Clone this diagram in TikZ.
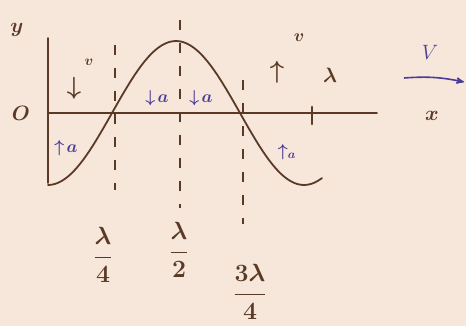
\documentclass[tikz,border=0pt]{standalone}
\usepackage{amsmath,amssymb}
\usepackage{tikz}
\usetikzlibrary{arrows,positioning}
\definecolor{paper}{HTML}{F7E7DA}
\definecolor{brownink}{HTML}{5A3A26}
\definecolor{blueink}{HTML}{4B3C98}
\tikzstyle{ink}=[draw=brownink,line width=1.8pt,line cap=round]
\tikzstyle{guide}=[draw=brownink,line width=1.4pt,dash pattern=on 10pt off 13pt]
\tikzstyle{lbl}=[text=brownink,font=\fontsize{20}{24}\selectfont\boldmath,inner sep=1pt]
\tikzstyle{frac}=[text=brownink,font=\fontsize{23}{26}\selectfont\boldmath,inner sep=1pt]
\tikzstyle{accl}=[text=blueink,font=\fontsize{17}{20}\selectfont\boldmath,inner sep=1pt]
\tikzstyle{post}=[->,>=stealth',draw=blueink,line width=1.6pt]

\begin{document}
\begin{tikzpicture}[x=1pt,y=-1pt]
    \fill[paper] (0,0) rectangle (466,326);
    \useasboundingbox (0,0) rectangle (466,326);
    % axes
    \coordinate (O) at (48,113);
    \coordinate (ytop) at (48,38);
    \coordinate (ybot) at (48,183);
    \coordinate (xend) at (377,113);
    \draw[ink] (ytop) -- (ybot);
    \draw[ink] (O) -- (xend);
    \node (ylbl) [lbl] at (17,30) {$y$};
    \node (olbl) [lbl] at (21,113) {$O$};
    % the wave
    \draw[ink] plot[domain=48:322,samples=80,smooth] (\x,{113+72*cos(1.40625*(\x-48))});
    % guide lines
    \coordinate (q1t) at (115,45);  \coordinate (q1b) at (115,190);
    \coordinate (q2t) at (180,20);  \coordinate (q2b) at (180,208);
    \coordinate (q3t) at (243,80);  \coordinate (q3b) at (243,224);
    \draw[guide] (q1t) -- (q1b);
    \draw[guide] (q2t) -- (q2b);
    \draw[guide] (q3t) -- (q3b);
    \coordinate (lt) at (312,107);  \coordinate (lb) at (312,124);
    \draw[ink,line width=2.8pt] (lt) -- (lb);
    \node (quarter) [frac] at (103,255) {$\dfrac{\lambda}{4}$};
    \node (half) [frac] at (179,250) {$\dfrac{\lambda}{2}$};
    \node (threeq) [frac] at (250,292) {$\dfrac{3\lambda}{4}$};
    % velocities and accelerations
    \node (vdown) [lbl,font=\fontsize{24}{28}\selectfont\boldmath] at (74,88) {$\downarrow$};
    \node (vdownl) [lbl,font=\fontsize{14}{16}\selectfont\boldmath] at (89,62) {$v$};
    \node (vup) [lbl,font=\fontsize{24}{28}\selectfont\boldmath] at (277,72) {$\uparrow$};
    \node (vupl) [lbl,font=\fontsize{16}{18}\selectfont\boldmath] at (299,38) {$v$};
    \node (lam) [lbl] at (330,75) {$\lambda$};
    \node (adown1) [accl] at (157,98) {$\downarrow\! a$};
    \node (adown2) [accl] at (201,98) {$\downarrow\! a$};
    \node (aup1) [accl] at (66,148) {$\uparrow\! a$};
    \node (aup2) [accl] at (287,152) {$\uparrow_{a}$};
    % direction of travel
    \node (vel) [accl,font=\fontsize{22}{26}\selectfont] at (430,52) {$V$};
    \coordinate (vs) at (404,78);
    \coordinate (ve) at (464,82);
    \draw[post] (vs) to[bend left=8] (ve);
    \node (xlbl) [lbl] at (432,116) {$x$};
\end{tikzpicture}
\end{document}
